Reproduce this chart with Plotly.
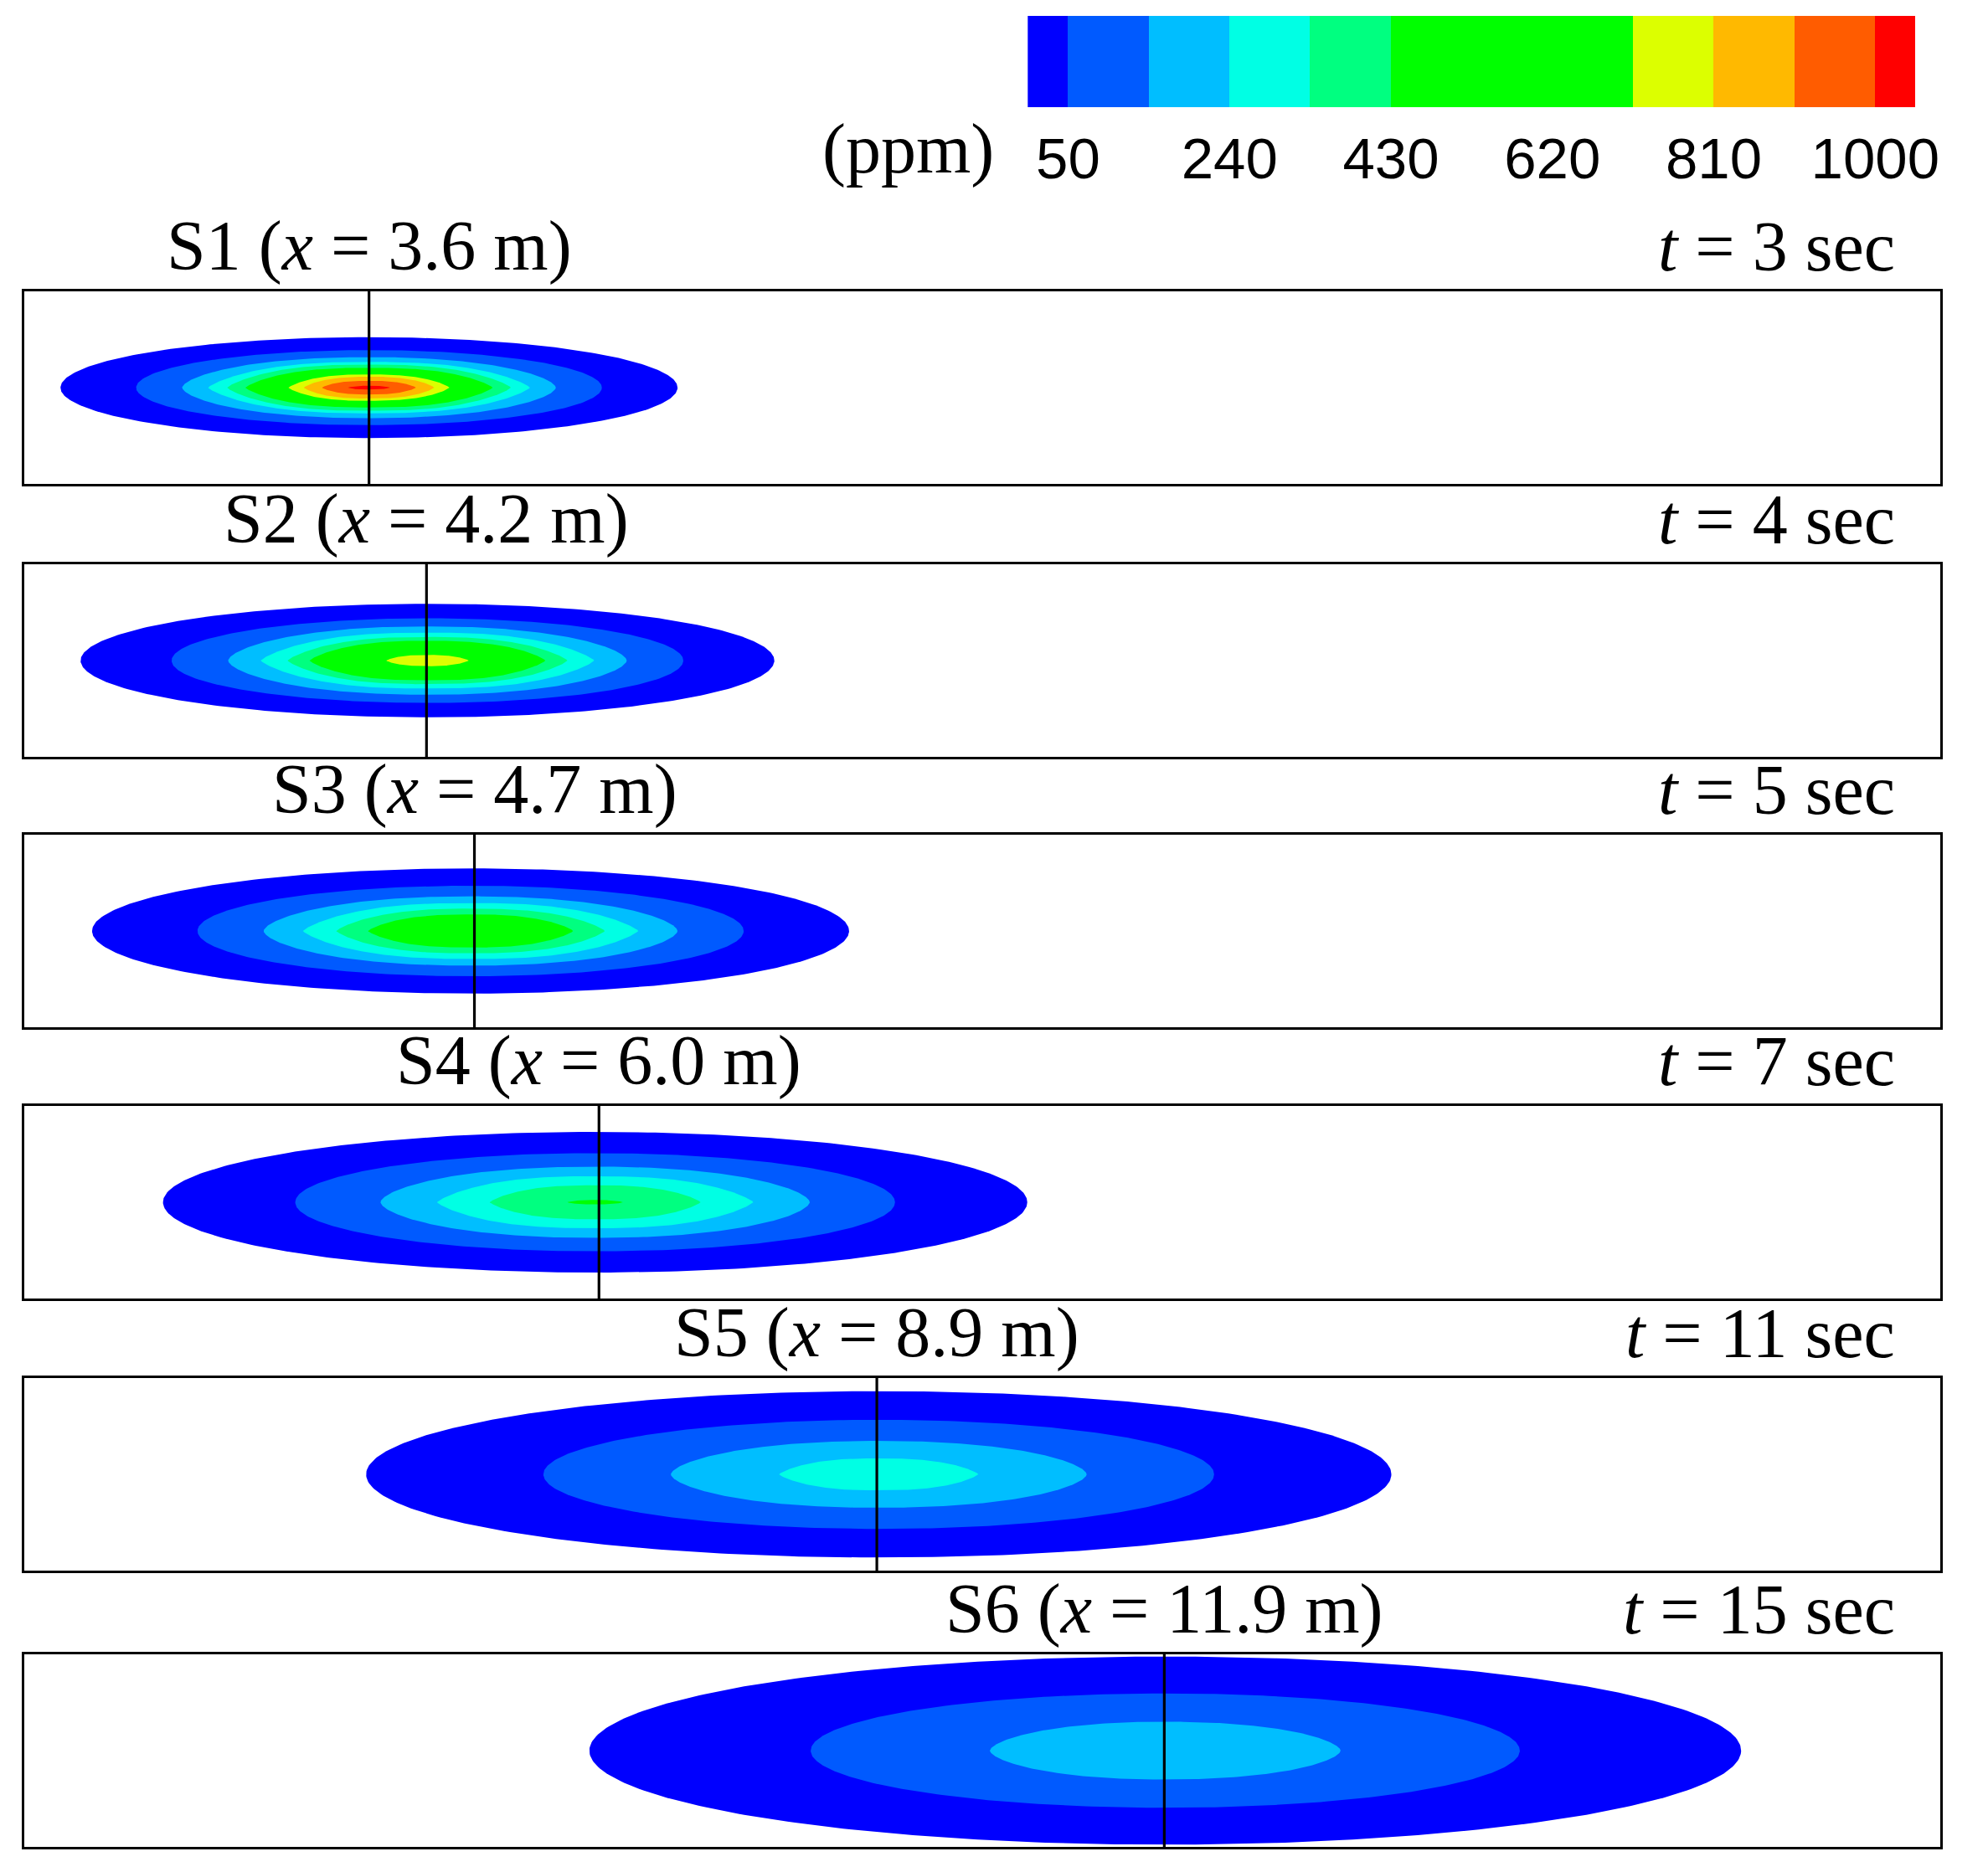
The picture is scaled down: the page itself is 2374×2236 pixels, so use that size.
"""Plume concentration snapshots at six sensor stations (S1-S6)."""

import numpy as np
import plotly.graph_objects as go

# ---- data ----
stations = ['S1', 'S2', 'S3', 'S4', 'S5', 'S6']
sensor_x = [3.6, 4.2, 4.7, 6.0, 8.9, 11.9]          # m
times = [3, 4, 5, 7, 11, 15]                          # sec
plume_x = [3.60, 4.21, 4.66, 5.96, 8.92, 11.91]       # plume centre, m

# half-length / half-height (m) of each filled contour band, outermost first
half_len = [
    [3.22, 2.43, 1.95, 1.68, 1.48, 1.29, 0.84, 0.68, 0.49, 0.22],
    [3.62, 2.67, 2.08, 1.74, 1.46, 1.23, 0.43],
    [3.95, 2.85, 2.16, 1.75, 1.40, 1.07],
    [4.51, 3.13, 2.24, 1.65, 1.10, 0.29],
    [5.35, 3.50, 2.17, 1.04],
    [6.01, 3.70, 1.83],
]
half_hgt = [
    [0.524, 0.39, 0.317, 0.267, 0.24, 0.206, 0.137, 0.114, 0.071, 0.02],
    [0.59, 0.44, 0.355, 0.29, 0.245, 0.205, 0.058],
    [0.65, 0.47, 0.36, 0.29, 0.232, 0.172],
    [0.73, 0.51, 0.37, 0.27, 0.177, 0.023],
    [0.864, 0.567, 0.347, 0.166],
    [0.977, 0.594, 0.30],
]

# contour bands (ppm) and their colours
band_colors = ['#0000ff', '#005aff', '#00beff', '#00ffe4', '#00ff80',
               '#00ff00', '#dcff00', '#ffb900', '#ff5c00', '#ff0000']
cbar_edges = [2.5, 50, 145, 240, 335, 430, 715, 810, 905, 1000, 1047.5]
cbar_ticks = [50, 240, 430, 620, 810, 1000]

# ---- layout helpers (pixels of the 2374x2236 page) ----
W, H = 2350, 2206
OFF = 8
SERIF = 'Liberation Serif'
SANS = 'Liberation Sans'


def fx(px):
    return (px - OFF) / W


def fy(py):
    return 1 - (py - OFF) / H


panel_top = [348, 674, 997, 1321, 1646, 1976]
panel_h = 230
box_left, box_right = 29, 2345


def lens(cx, a, b, band):
    # outline of one filled contour band
    th = np.linspace(0, np.pi, 181)
    u = np.cos(th)
    if band < 2:
        p, k = 2.0, 0.5
    elif band < 3:
        p, k = 2.2, 0.6
    else:
        p, k = 2.6, 0.8
    top = b * np.clip(1 - np.abs(u) ** p, 0, None) ** k
    xs = np.concatenate([cx + a * u, cx + a * u[::-1]])
    ys = np.concatenate([top, -top[::-1]])
    return xs, ys


fig = go.Figure()
annotations = []
shapes = []

for i in range(6):
    n = i + 1
    xa = 'x' if n == 1 else f'x{n}'
    ya = 'y' if n == 1 else f'y{n}'
    for band, (a, b) in enumerate(zip(half_len[i], half_hgt[i])):
        xs, ys = lens(plume_x[i], a, b, band)
        fig.add_trace(go.Scatter(
            x=xs, y=ys, mode='lines', fill='toself',
            fillcolor=band_colors[band], line=dict(width=0),
            hoverinfo='skip', showlegend=False, xaxis=xa, yaxis=ya))

    top = panel_top[i]
    ax = dict(domain=[fx(box_left), fx(box_right)], range=[0, 20],
              showgrid=False, zeroline=False, showticklabels=False, ticks='',
              showline=True, mirror=True, linecolor='black', linewidth=3,
              anchor=ya)
    ay = dict(domain=[fy(top + panel_h), fy(top)], range=[-1, 1],
              showgrid=False, zeroline=False, showticklabels=False, ticks='',
              showline=True, mirror=True, linecolor='black', linewidth=3,
              anchor=xa)
    fig.layout['xaxis' if n == 1 else f'xaxis{n}'] = ax
    fig.layout['yaxis' if n == 1 else f'yaxis{n}'] = ay

    shapes.append(dict(type='line', xref=xa, yref=f'{ya} domain',
                       x0=sensor_x[i], x1=sensor_x[i], y0=0, y1=1,
                       line=dict(color='black', width=3.2)))
    annotations.append(dict(
        text=f'{stations[i]} (<i>x</i> = {sensor_x[i]:.1f} m)',
        x=sensor_x[i], xref=xa, y=fy(top - 5), yref='paper',
        xanchor='center', yanchor='bottom', showarrow=False,
        font=dict(family=SERIF, size=84, color='black')))
    annotations.append(dict(
        text=f'<i>t</i> = {times[i]} sec',
        x=fx(2292), xref='paper', y=fy(top - 5), yref='paper',
        xanchor='right', yanchor='bottom', showarrow=False,
        font=dict(family=SERIF, size=84, color='black')))

# ---- colour bar ----
edges = np.array(cbar_edges)
fig.add_trace(go.Bar(
    x=(edges[:-1] + edges[1:]) / 2, y=[1] * (len(edges) - 1),
    width=np.diff(edges), marker=dict(color=band_colors, line=dict(width=0)),
    hoverinfo='skip', showlegend=False, xaxis='x7', yaxis='y7'))
fig.layout['xaxis7'] = dict(
    domain=[fx(1242), fx(2315)], range=[edges[0], edges[-1]], anchor='y7',
    tickvals=cbar_ticks, ticktext=[str(t) for t in cbar_ticks],
    ticks='outside', ticklen=1, tickcolor='rgba(0,0,0,0)',
    tickfont=dict(family=SANS, size=69, color='black'),
    showgrid=False, zeroline=False, showline=False)
fig.layout['yaxis7'] = dict(
    domain=[fy(128), fy(19)], range=[0, 1], anchor='x7',
    showticklabels=False, showgrid=False, zeroline=False, ticks='')

annotations.append(dict(
    text='(ppm)', x=fx(1203), xref='paper', y=fy(178), yref='paper',
    xanchor='right', yanchor='middle', showarrow=False,
    font=dict(family=SERIF, size=84, color='black')))

fig.update_layout(
    width=W, height=H, margin=dict(l=0, r=0, t=0, b=0),
    paper_bgcolor='white', plot_bgcolor='white',
    annotations=annotations, shapes=shapes, bargap=0)

fig.write_html("out.html")
